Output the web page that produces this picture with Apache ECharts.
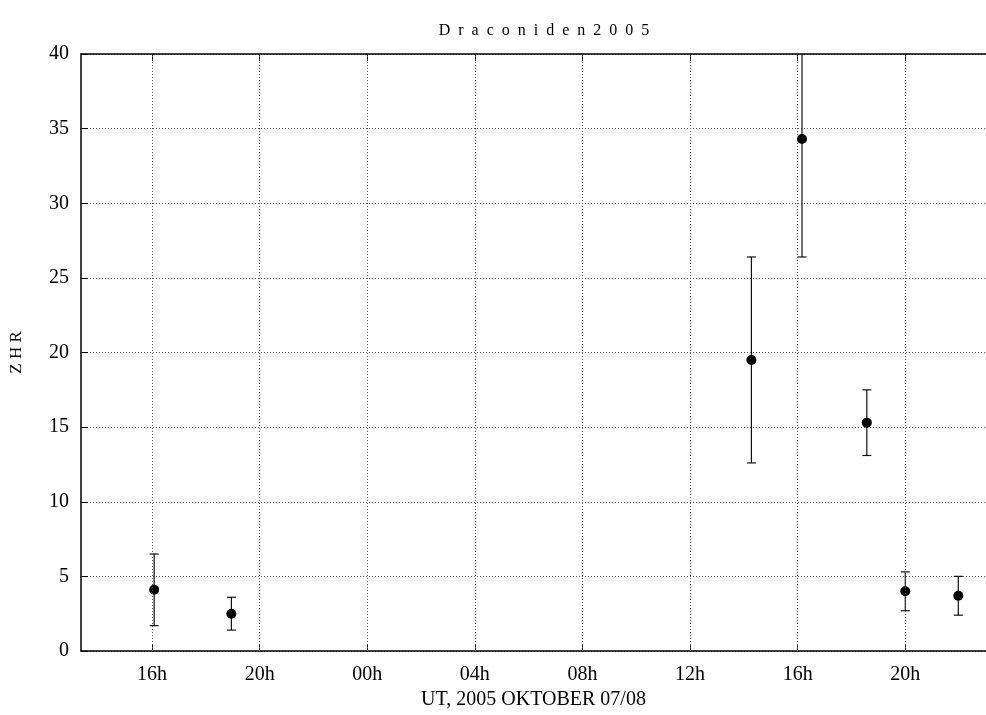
<!DOCTYPE html>
<html>
<head>
<meta charset="utf-8">
<script src="https://cdn.jsdelivr.net/npm/echarts@6/dist/echarts.min.js"></script>
<style>
  html, body { margin: 0; padding: 0; background: #fff; }
  #chart { width: 986px; height: 715px; }
</style>
</head>
<body>
<div id="chart"></div>
<script>
// Draconiden 2005 — ZHR with error bars, hours since 2005-10-07 00h UT
const hours = [16.08, 18.95, 38.28, 40.16, 42.57, 44.00, 45.97];
const zhr   = [4.1, 2.5, 19.5, 34.3, 15.3, 4.0, 3.7];
const zhrLo = [1.7, 1.4, 12.6, 26.4, 13.1, 2.7, 2.4];
const zhrHi = [6.5, 3.6, 26.4, 42.2, 17.5, 5.3, 5.0];

const xTickValues = [16, 20, 24, 28, 32, 36, 40, 44];
const xTickLabels = ['16h', '20h', '00h', '04h', '08h', '12h', '16h', '20h'];

const FONT = 'Liberation Serif';
const dotted = { color: '#555', width: 1, type: [1, 2] };
const spaced = s => s.split('').filter(c => c !== ' ').join('\u2002');

const chart = echarts.init(document.getElementById('chart'));

const labelFor = v => {
  const i = xTickValues.indexOf(v);
  return i >= 0 ? xTickLabels[i] : '';
};

chart.setOption({
  animation: false,
  title: {
    text: spaced('Draconiden 2005'),
    left: 539,
    top: 18,
    textAlign: 'center',
    textStyle: { fontFamily: FONT, fontSize: 16, fontWeight: 'normal', color: '#000' }
  },
  grid: { left: 81, right: 0, top: 54, bottom: 64, containLabel: false },
  xAxis: [{
    type: 'value',
    min: 13.36,
    max: 47,
    position: 'bottom',
    name: 'UT, 2005 OKTOBER 07/08',
    nameLocation: 'middle',
    nameGap: 38,
    nameTextStyle: { fontFamily: FONT, fontSize: 20, color: '#000' },
    axisLine: { onZero: false, lineStyle: { color: '#000', width: 1.5 } },
    axisTick: { inside: true, length: 7, customValues: xTickValues, lineStyle: { color: '#000' } },
    axisLabel: {
      customValues: xTickValues,
      formatter: labelFor,
      fontFamily: FONT, fontSize: 20, color: '#000', margin: 14
    },
    splitLine: { show: false }
  }, {
    type: 'value',
    min: 13.36,
    max: 47,
    position: 'top',
    axisLine: { onZero: false, lineStyle: { color: '#000', width: 1.5 } },
    axisTick: { inside: true, length: 7, customValues: xTickValues, lineStyle: { color: '#000' } },
    axisLabel: { show: false },
    splitLine: { show: false }
  }],
  yAxis: {
    type: 'value',
    min: 0,
    max: 40,
    interval: 5,
    name: 'Z H R',
    nameLocation: 'middle',
    nameGap: 56,
    nameTextStyle: { fontFamily: FONT, fontSize: 17, color: '#000' },
    axisLine: { show: true, onZero: false, lineStyle: { color: '#000', width: 1.5 } },
    axisTick: { show: true, inside: true, length: 7, lineStyle: { color: '#000' } },
    axisLabel: { fontFamily: FONT, fontSize: 20, color: '#000', margin: 12 },
    splitLine: { show: true, lineStyle: dotted }
  },
  series: [{
    type: 'custom',
    clip: true,
    silent: true,
    data: hours.map((h, i) => [h, zhrLo[i], zhrHi[i]]),
    renderItem(params, api) {
      const lo = api.coord([api.value(0), api.value(1)]);
      const hi = api.coord([api.value(0), api.value(2)]);
      const w = 4.5;
      const style = { stroke: '#111', lineWidth: 1.2, fill: null };
      return {
        type: 'group',
        children: [
          { type: 'line', shape: { x1: lo[0], y1: lo[1], x2: hi[0], y2: hi[1] }, style },
          { type: 'line', shape: { x1: lo[0] - w, y1: lo[1], x2: lo[0] + w, y2: lo[1] }, style },
          { type: 'line', shape: { x1: hi[0] - w, y1: hi[1], x2: hi[0] + w, y2: hi[1] }, style }
        ]
      };
    },
    z: 3
  }, {
    type: 'scatter',
    symbol: 'circle',
    symbolSize: 10,
    itemStyle: { color: '#000', opacity: 1 },
    data: hours.map((h, i) => [h, zhr[i]]),
    markLine: {
      silent: true,
      symbol: 'none',
      label: { show: false },
      lineStyle: dotted,
      data: xTickValues.map(v => ({ xAxis: v }))
    },
    z: 4
  }]
});
</script>
</body>
</html>
